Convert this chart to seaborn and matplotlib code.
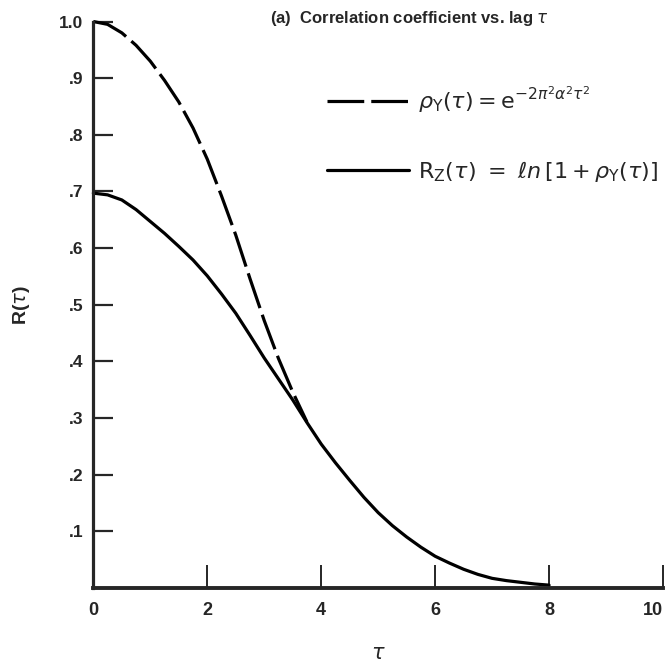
import numpy as np
import pandas as pd
import matplotlib
matplotlib.use("Agg")
import matplotlib.pyplot as plt
import seaborn as sns

# ---- data ----
tau_rho = [0.0, 0.25, 0.5, 0.75, 1.0, 1.25, 1.5, 1.75, 2.0, 2.25, 2.5, 2.75,
           3.0, 3.25, 3.5, 3.75]
rho_y = [1.0, 0.995, 0.980, 0.958, 0.930, 0.896, 0.858, 0.812, 0.757, 0.692,
         0.623, 0.546, 0.472, 0.405, 0.346, 0.293]

tau_rz = [0.0, 0.25, 0.5, 0.75, 1.0, 1.25, 1.5, 1.75, 2.0, 2.25, 2.5, 2.75,
          3.0, 3.25, 3.5, 3.75, 4.0, 4.25, 4.5, 4.75, 5.0, 5.25, 5.5, 5.75,
          6.0, 6.25, 6.5, 6.75, 7.0, 7.25, 7.5, 7.75, 8.0]
r_z = [0.697, 0.694, 0.685, 0.668, 0.647, 0.626, 0.603, 0.579, 0.551, 0.519,
       0.485, 0.446, 0.406, 0.369, 0.332, 0.292, 0.254, 0.221, 0.190, 0.160,
       0.133, 0.110, 0.090, 0.072, 0.056, 0.044, 0.033, 0.024, 0.017, 0.013,
       0.010, 0.007, 0.005]

x_ticks = [0, 2, 4, 6, 8, 10]
x_tick_labels = ["0", "2", "4", "6", "8", "10"]
y_ticks = [0.1, 0.2, 0.3, 0.4, 0.5, 0.6, 0.7, 0.8, 0.9, 1.0]
y_tick_labels = [".1", ".2", ".3", ".4", ".5", ".6", ".7", ".8", ".9", "1.0"]

title_text = r"(a)  Correlation coefficient vs. lag $\tau$"
label_rho = r"$\rho_{\mathrm{Y}}(\tau) = \mathrm{e}^{-2\pi^2\alpha^2\tau^2}$"
label_rz = r"$\mathrm{R_Z}(\tau)\ =\ \ell n\,[1 + \rho_{\mathrm{Y}}(\tau)]$"

# ---- style ----
sns.set_style("ticks")
plt.rcParams["font.family"] = ["Liberation Sans", "DejaVu Sans"]
plt.rcParams["mathtext.fontset"] = "dejavusans"

df_rho = pd.DataFrame({"tau": tau_rho, "R": rho_y})
df_rz = pd.DataFrame({"tau": tau_rz, "R": r_z})

fig = plt.figure(figsize=(6.70, 6.64), dpi=100)
ax = fig.add_axes([0.1393, 0.1145, 0.8503, 0.8531])

lw = 2.3
dash = (11.5, 2.2)
sns.lineplot(data=df_rho, x="tau", y="R", ax=ax, color="black", linewidth=lw,
             label=label_rho, clip_on=False)
sns.lineplot(data=df_rz, x="tau", y="R", ax=ax, color="black", linewidth=lw,
             label=label_rz, clip_on=False)
ax.lines[0].set_dashes(dash)

ax.set_xlim(0, 10)
ax.set_ylim(0, 1.0)
ax.set_xticks(x_ticks, x_tick_labels)
ax.set_yticks(y_ticks, y_tick_labels)

for s in ["top", "right"]:
    ax.spines[s].set_visible(False)
ax.spines["left"].set_linewidth(2.3)
ax.spines["bottom"].set_linewidth(2.8)

ax.tick_params(axis="x", direction="in", length=16.5, width=1.4, pad=10,
               labelsize=13)
ax.tick_params(axis="y", direction="in", length=14.5, width=1.6, pad=7,
               labelsize=12.5)
for lab in ax.get_xticklabels() + ax.get_yticklabels():
    lab.set_fontweight("bold")
ax.get_xticklabels()[-1].set_horizontalalignment("right")

ax.set_xlabel(r"$\tau$", fontsize=15, labelpad=18)
ax.set_ylabel(r"R($\tau$)", fontsize=14, fontweight="bold", labelpad=20)

ax.text(3.1, 1.005, title_text, fontsize=12, fontweight="bold",
        ha="left", va="center", transform=ax.transData)

leg = ax.legend(loc="upper left", bbox_to_anchor=(0.41, 0.888), frameon=False,
                fontsize=16, handlelength=3.7, handletextpad=0.4,
                labelspacing=1.95, borderpad=0, borderaxespad=0)
for h in leg.get_lines():
    h.set_linewidth(lw)
leg.get_lines()[0].set_dashes(dash)

fig.savefig("out.png", dpi=100)
